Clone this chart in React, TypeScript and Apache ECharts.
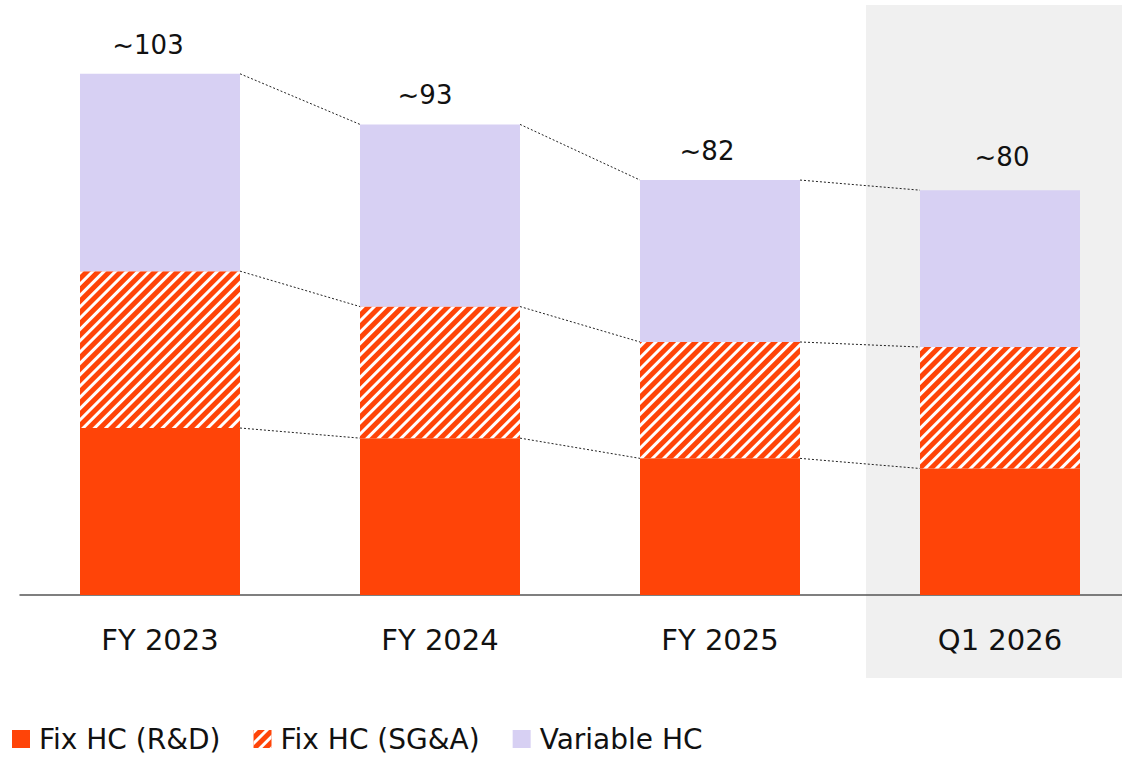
import React, { useEffect, useRef } from "react";
import * as echarts from "echarts";

// Headcount by period, stacked by type
const categories = ["FY 2023", "FY 2024", "FY 2025", "Q1 2026"];
const fixRnd = [33, 31, 27, 25];
const fixSga = [31, 26, 23, 24];
const variableHc = [39, 36, 32, 31];
const totalLabels = ["~103", "~93", "~82", "~80"];
const seriesNames = ["Fix HC (R&D)", "Fix HC (SG&A)", "Variable HC"];

const ORANGE = "#FF4408";
const LAVENDER = "#D7D0F3";
const PANEL = "#F0F0F0";
const FONT = "'DejaVu Sans', sans-serif";
const BAR_WIDTH = 160;
// small hand-placed nudges for the total labels above each bar
const TOTAL_LABEL_NUDGE: [number, number][] = [
  [-12, 0],
  [-15, 0],
  [-13, 0],
  [2, -4],
];

export default function App() {
  const ref = useRef<HTMLDivElement>(null);

  useEffect(() => {
    if (!ref.current) return;
    const chart = echarts.init(ref.current, undefined, { renderer: "svg" });

    // cumulative stack heights for the dotted connectors between bars
    const cum = categories.map((_, i) => [
      fixRnd[i],
      fixRnd[i] + fixSga[i],
      fixRnd[i] + fixSga[i] + variableHc[i],
    ]);
    const connectorData = categories
      .slice(0, -1)
      .map((_, i) => [i, ...cum[i], ...cum[i + 1]]);

    chart.setOption({
      animation: false,
      textStyle: { fontFamily: FONT },
      grid: {
        left: 20,
        width: 1120,
        top: 8,
        bottom: 162,
        outerBoundsMode: "none",
        containLabel: false,
      },
      legend: {
        left: 12,
        top: 725,
        padding: 0,
        itemWidth: 18,
        itemHeight: 18,
        itemGap: 33,
        icon: "rect",
        data: seriesNames,
        textStyle: {
          fontFamily: FONT,
          fontSize: 28,
          lineHeight: 28,
          color: "#111",
          padding: [0, 0, 0, 4],
        },
      },
      xAxis: {
        type: "category",
        data: categories,
        axisLine: { lineStyle: { color: "#555", width: 1.5 } },
        axisTick: { show: false },
        axisLabel: {
          fontSize: 29,
          color: "#111",
          margin: 30,
          fontFamily: FONT,
        },
      },
      yAxis: {
        type: "value",
        min: 0,
        max: 116,
        show: false,
        splitLine: { show: false },
      },
      series: [
        {
          name: seriesNames[0],
          type: "bar",
          stack: "hc",
          barWidth: BAR_WIDTH,
          data: fixRnd,
          itemStyle: { color: ORANGE },
        },
        {
          name: seriesNames[1],
          type: "bar",
          stack: "hc",
          barWidth: BAR_WIDTH,
          data: fixSga,
          itemStyle: {
            color: ORANGE,
            decal: {
              symbol: "rect",
              symbolSize: 1,
              color: "#ffffff",
              dashArrayX: [1, 0],
              dashArrayY: [3, 5],
              rotation: -Math.PI / 4,
            },
          },
        },
        {
          name: seriesNames[2],
          type: "bar",
          stack: "hc",
          barWidth: BAR_WIDTH,
          data: variableHc.map((v, i) => ({
            value: v,
            label: { offset: TOTAL_LABEL_NUDGE[i] },
          })),
          itemStyle: { color: LAVENDER },
          label: {
            show: true,
            position: "top",
            distance: 16,
            fontSize: 26,
            color: "#111",
            fontFamily: FONT,
            formatter: (p: any) => totalLabels[p.dataIndex],
          },
        },
        {
          type: "custom",
          clip: false,
          silent: true,
          z: 5,
          data: connectorData,
          renderItem: (_params: any, api: any) => {
            const i = api.value(0);
            const half = BAR_WIDTH / 2;
            const children = [0, 1, 2].map((k) => {
              const a = api.coord([i, api.value(1 + k)]);
              const b = api.coord([i + 1, api.value(4 + k)]);
              return {
                type: "line",
                shape: { x1: a[0] + half, y1: a[1], x2: b[0] - half, y2: b[1] },
                style: { stroke: "#222", lineWidth: 1, lineDash: [2, 2] },
              };
            });
            return { type: "group", children };
          },
        },
      ],
    });

    // shaded panel behind the latest quarter
    const cx = chart.convertToPixel({ xAxisIndex: 0 }, categories[3]) as number;
    chart.setOption({
      graphic: [
        {
          type: "rect",
          z: -10,
          silent: true,
          shape: { x: cx - 134, y: 5, width: 300, height: 673 },
          style: { fill: PANEL },
        },
      ],
    });

    return () => chart.dispose();
  }, []);

  return (
    <div
      ref={ref}
      style={{ position: "absolute", left: 0, top: 0, width: 1122, height: 757 }}
    />
  );
}
